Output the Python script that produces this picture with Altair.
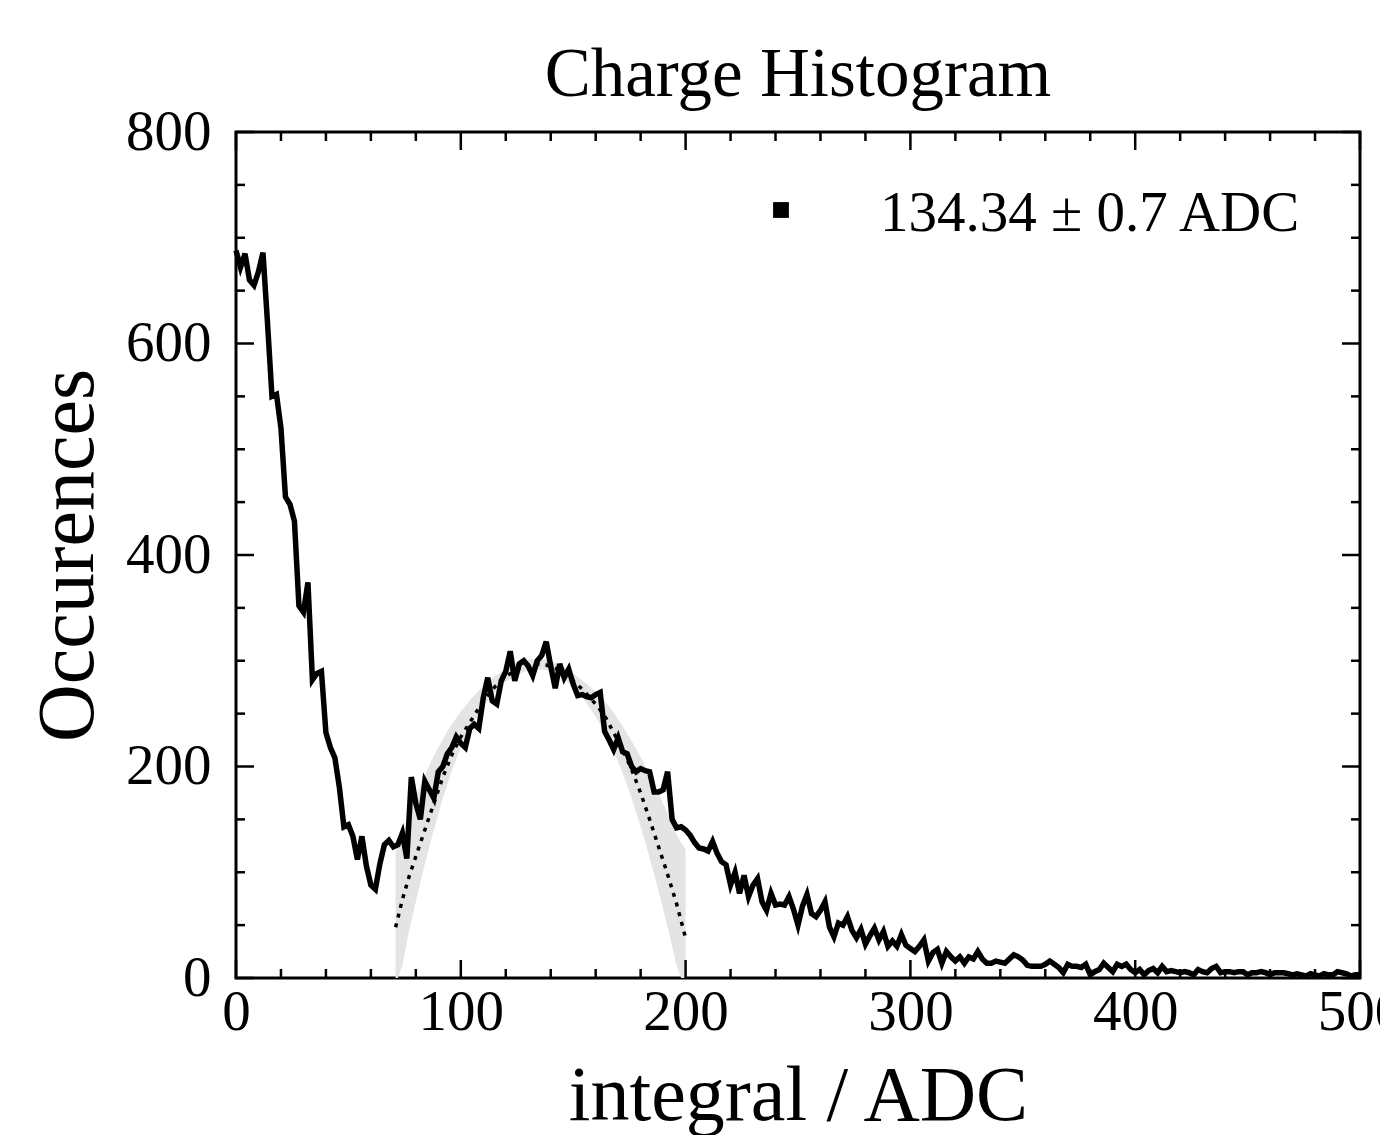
import altair as alt
import pandas as pd

# ---------------- data ----------------
bin_start = 0
bin_width = 2
hist_y = [
    688, 672, 685, 660, 655, 668, 686, 620, 550, 552,
    520, 455, 448, 432, 352, 346, 374, 282, 288, 290,
    232, 218, 208, 180, 143, 145, 134, 112, 134, 106,
    88, 84, 108, 126, 130, 124, 126, 137, 113,
    190, 165, 150, 186, 178, 170, 195, 200, 212, 218,
    228, 222, 218, 236, 240, 236, 265, 284, 262, 259,
    281, 290, 309, 281, 297, 300, 295, 286, 300, 305,
    318, 295, 274, 297, 284, 292, 278, 267, 268, 266,
    265, 268, 270, 233, 225, 216, 227, 214, 212, 200,
    195, 198, 196, 195, 176, 176, 178, 195, 150, 142,
    143, 140, 135, 128, 123, 122, 120,
    129, 118, 110, 107, 88, 100, 80, 97, 77, 88,
    94, 72, 64, 80, 69, 70, 69, 77, 65, 50,
    68, 79, 61, 58, 64, 72, 48, 39, 52, 50,
    58, 45, 38, 46, 32, 40, 47, 36, 44, 30,
    35, 30, 41, 31, 28, 25, 30, 36, 16, 24,
    27, 14, 25, 20, 16, 20, 14, 20, 18, 25,
    18, 14, 14, 16, 15, 14, 18, 22, 20, 17,
    12, 11, 11, 11, 13, 16, 13, 10, 5, 13,
    11, 11, 10, 13, 3, 6, 8, 14, 10, 6,
    13, 11, 13, 8, 5, 8, 3, 7, 9, 5,
    11, 6, 7, 6, 5, 6, 5, 3, 8, 6,
    5, 9, 11, 5, 6, 6, 5, 6, 6, 3,
    5, 5, 6, 5, 3, 5, 5, 5, 4, 3,
    4, 3, 2, 4, 3, 2, 4, 3, 3, 6,
    5, 4, 2, 3, 3,
]
hist_x = [bin_start + i * bin_width for i in range(len(hist_y))]

fit_x = [71, 74, 77, 80, 84, 88, 92, 96, 100, 105, 110, 115, 120, 125, 130,
         134, 138, 142, 146, 150, 155, 160, 164, 168, 172, 176, 180, 184, 188,
         192, 196, 200]
fit_y = [48, 74, 96, 115, 140, 165, 190, 211, 228, 245, 262, 275, 285, 292, 296,
         297, 296, 293, 288, 281, 271, 259, 248, 232, 216, 197, 175, 150, 124,
         98, 70, 38]

band_x = [71, 72, 74, 77, 80, 84, 88, 92, 96, 100, 105, 110, 115, 120, 125, 130,
          134, 138, 142, 146, 150, 155, 160, 164, 168, 172, 176, 180, 184, 188,
          192, 196, 198, 200]
band_lo = [0, 0, 12, 45, 72, 108, 140, 170, 196, 218, 240, 257, 270, 280, 287, 291,
           292, 291, 288, 283, 275, 263, 247, 232, 214, 194, 170, 143, 114, 82,
           48, 12, 0, 0]
band_hi = [120, 124, 135, 155, 172, 192, 210, 226, 240, 252, 265, 276, 285, 292, 298, 301,
           302, 301, 298, 294, 288, 280, 271, 262, 251, 238, 224, 209, 192, 174,
           156, 136, 128, 122]

legend_label = ["134.34 \u00b1 0.7 ADC"]

x_major = [0, 100, 200, 300, 400, 500]
x_minor = [20, 40, 60, 80, 120, 140, 160, 180, 220, 240, 260, 280,
           320, 340, 360, 380, 420, 440, 460, 480]
y_major = [0, 200, 400, 600, 800]
y_minor = [50, 100, 150, 250, 300, 350, 450, 500, 550, 650, 700, 750]

# ---------------- chart ----------------
W, H = 1124, 846
FONT = "Liberation Serif"
MAJ, MIN = 18, 9

xs = alt.Scale(domain=[0, 500], nice=False, zero=False)
ys = alt.Scale(domain=[0, 800], nice=False, zero=False)

hist_df = pd.DataFrame({"x": hist_x, "y": hist_y})
fit_df = pd.DataFrame({"x": fit_x, "y": fit_y})
band_df = pd.DataFrame({"x": band_x, "y": band_lo, "hi": band_hi})

x_axis = alt.Axis(values=x_major, grid=False, ticks=False,
                  domain=False, tickSize=0, labelFont=FONT, labelFontSize=57,
                  labelColor="black", labelPadding=6, labelFlush=False,
                  labelOverlap=False, titleFont=FONT, titleFontSize=78,
                  titleFontWeight="normal", titleColor="black", titlePadding=17)
y_axis = alt.Axis(values=y_major, grid=False, ticks=False,
                  domain=False, tickSize=0, labelFont=FONT, labelFontSize=57,
                  labelColor="black", labelPadding=25, labelFlush=False,
                  labelOverlap=False, titleFont=FONT, titleFontSize=80,
                  titleFontWeight="normal", titleColor="black", titlePadding=16)

XT = "integral / ADC"
YT = "Occurences"


def X():
    return alt.X("x:Q", scale=xs, axis=x_axis, title=XT)


def Y():
    return alt.Y("y:Q", scale=ys, axis=y_axis, title=YT)


band = alt.Chart(band_df).mark_area(color="#e4e4e4", opacity=1).encode(
    x=X(), y=Y(), y2="hi:Q",
)

fit = alt.Chart(fit_df).mark_line(color="black", strokeWidth=3.5,
                                  strokeDash=[4, 6], strokeCap="butt").encode(
    x=X(), y=Y(),
)

line = alt.Chart(hist_df).mark_line(color="black", strokeWidth=5.5,
                                    strokeJoin="miter").encode(
    x=X(), y=Y(),
)


def vticks(vals, length, top):
    df = pd.DataFrame({"x": vals})
    rule = alt.Chart(df).mark_rule(color="black", strokeWidth=2.5)
    if top:
        return rule.encode(x=X(), y=alt.value(0), y2=alt.value(length))
    return rule.encode(x=X(), y=alt.value(H - length), y2=alt.value(H))


def hticks(vals, length, left):
    df = pd.DataFrame({"y": vals})
    rule = alt.Chart(df).mark_rule(color="black", strokeWidth=2.5)
    if left:
        return rule.encode(y=Y(), x=alt.value(0), x2=alt.value(length))
    return rule.encode(y=Y(), x=alt.value(W - length), x2=alt.value(W))


ticks = [
    vticks(x_major, MAJ, False), vticks(x_minor, MIN, False),
    vticks(x_major, MAJ, True), vticks(x_minor, MIN, True),
    hticks(y_major, MAJ, True), hticks(y_minor, MIN, True),
    hticks(y_major, MAJ, False), hticks(y_minor, MIN, False),
]

leg_df = pd.DataFrame({"label": legend_label})
leg_sym = alt.Chart(leg_df).mark_square(color="black", size=250, opacity=1).encode(
    x=alt.value(545), y=alt.value(78))
leg_txt = alt.Chart(leg_df).mark_text(align="left", baseline="alphabetic",
                                      font=FONT, fontSize=57, color="black").encode(
    x=alt.value(644), y=alt.value(99), text="label:N")

chart = alt.layer(band, fit, line, *ticks, leg_sym, leg_txt).properties(
    width=W, height=H,
    background="white",
    title=alt.TitleParams("Charge Histogram", font=FONT, fontSize=69,
                          fontWeight="normal", color="black", anchor="middle",
                          offset=-7),
    padding={"left": 228, "top": 124, "right": 20, "bottom": 157},
    autosize="none",
).configure_view(stroke="black", strokeWidth=3)

chart.save("out.html", embed_options={"renderer": "svg", "actions": False})
